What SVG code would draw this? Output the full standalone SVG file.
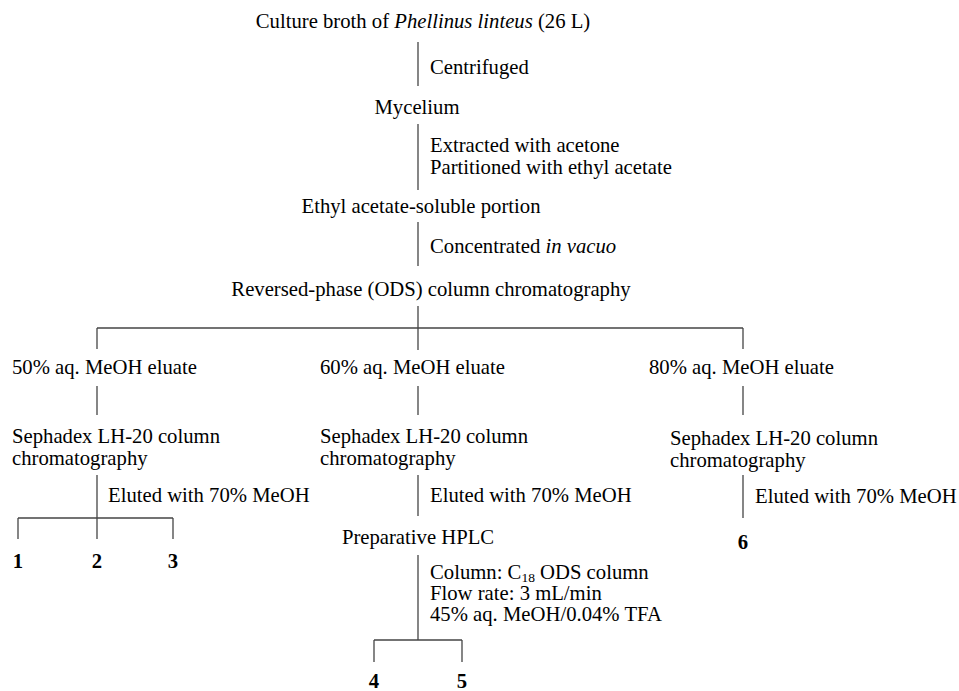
<svg xmlns="http://www.w3.org/2000/svg" width="959" height="691" viewBox="0 0 959 691">
<style>
text{font-family:"Liberation Serif","Times New Roman",serif;font-size:20.7px;fill:#000}
.c{text-anchor:middle}
.b{font-weight:bold}
.i{font-style:italic}
#connectors line{stroke:#444;stroke-width:1.3;fill:none}
</style>
<rect width="959" height="691" fill="#fff"/>
<g id="connectors">
<line x1="418" y1="42" x2="418" y2="86"/>
<line x1="418" y1="124" x2="418" y2="190"/>
<line x1="418" y1="222" x2="418" y2="266"/>
<line x1="418" y1="306" x2="418" y2="350"/>
<line x1="97" y1="328" x2="743" y2="328"/>
<line x1="97" y1="328" x2="97" y2="349"/>
<line x1="743" y1="328" x2="743" y2="349"/>
<line x1="97" y1="386" x2="97" y2="415"/>
<line x1="418" y1="386" x2="418" y2="415"/>
<line x1="743" y1="386" x2="743" y2="415"/>
<line x1="97" y1="475" x2="97" y2="539"/>
<line x1="18" y1="518" x2="173" y2="518"/>
<line x1="18" y1="518" x2="18" y2="539"/>
<line x1="173" y1="518" x2="173" y2="539"/>
<line x1="418" y1="475" x2="418" y2="516"/>
<line x1="418" y1="555" x2="418" y2="640"/>
<line x1="374" y1="640" x2="462" y2="640"/>
<line x1="374" y1="640" x2="374" y2="662"/>
<line x1="462" y1="640" x2="462" y2="662"/>
<line x1="743" y1="475" x2="743" y2="518"/>
</g>
<g id="n-broth"><text x="423" y="28" class="c">Culture broth of <tspan class="i">Phellinus linteus</tspan> (26 L)</text></g>
<g id="l-centrifuged"><text x="430" y="74">Centrifuged</text></g>
<g id="n-mycelium"><text x="417" y="114" class="c">Mycelium</text></g>
<g id="l-extracted"><text x="430" y="152">Extracted with acetone</text><text x="430" y="174">Partitioned with ethyl acetate</text></g>
<g id="n-etoac"><text x="421" y="213" class="c">Ethyl acetate-soluble portion</text></g>
<g id="l-conc"><text x="430" y="253">Concentrated <tspan class="i">in vacuo</tspan></text></g>
<g id="n-ods"><text x="431" y="296" class="c">Reversed-phase (ODS) column chromatography</text></g>
<g id="n-50"><text x="12" y="374">50% aq. MeOH eluate</text></g>
<g id="n-60"><text x="320" y="374">60% aq. MeOH eluate</text></g>
<g id="n-80"><text x="649" y="374">80% aq. MeOH eluate</text></g>
<g id="n-seph1"><text x="12" y="443">Sephadex LH-20 column</text><text x="12" y="465">chromatography</text></g>
<g id="n-seph2"><text x="320" y="443">Sephadex LH-20 column</text><text x="320" y="465">chromatography</text></g>
<g id="n-seph3"><text x="670" y="445">Sephadex LH-20 column</text><text x="670" y="467">chromatography</text></g>
<g id="l-elute1"><text x="108" y="502">Eluted with 70% MeOH</text></g>
<g id="l-elute2"><text x="430" y="502">Eluted with 70% MeOH</text></g>
<g id="l-elute3"><text x="755" y="503">Eluted with 70% MeOH</text></g>
<g id="n-1"><text x="18" y="568" class="c b">1</text></g>
<g id="n-2"><text x="97" y="568" class="c b">2</text></g>
<g id="n-3"><text x="173" y="568" class="c b">3</text></g>
<g id="n-6"><text x="743" y="549" class="c b">6</text></g>
<g id="n-hplc"><text x="418" y="544" class="c">Preparative HPLC</text></g>
<g id="l-hplc"><text x="430" y="579">Column: C<tspan font-size="13.5" dy="3">18</tspan><tspan dy="-3"> ODS column</tspan></text><text x="430" y="600">Flow rate: 3 mL/min</text><text x="430" y="621">45% aq. MeOH/0.04% TFA</text></g>
<g id="n-4"><text x="374" y="688" class="c b">4</text></g>
<g id="n-5"><text x="462" y="688" class="c b">5</text></g>
</svg>
